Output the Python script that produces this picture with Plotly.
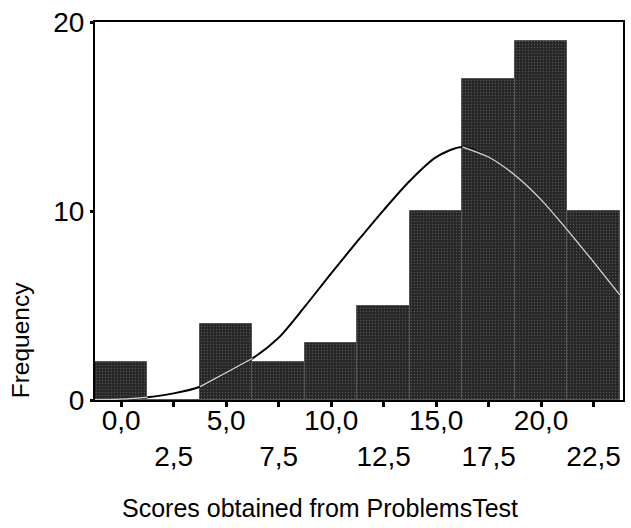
import plotly.graph_objects as go

# Histogram bins (centres) and frequencies
bin_centers = [0.0, 2.5, 5.0, 7.5, 10.0, 12.5, 15.0, 17.5, 20.0, 22.5]
frequencies = [2, 0, 4, 2, 3, 5, 10, 17, 19, 10]
tick_labels = ["0,0", "2,5", "5,0", "7,5", "10,0", "12,5",
               "15,0", "17,5", "20,0", "22,5"]

# Normal curve
curve_x = [-1.25, 0.0, 1.25, 2.5, 3.75, 5.0, 6.25, 7.5, 8.75, 10.0, 11.25,
           12.5, 13.75, 15.0, 16.25, 17.5, 18.75, 20.0, 21.25, 22.5, 23.75]
curve_y = [0.02, 0.05, 0.15, 0.35, 0.7, 1.45, 2.2, 3.3, 4.95, 6.7, 8.4,
           10.05, 11.6, 12.85, 13.39, 12.85, 11.9, 10.6, 9.0, 7.3, 5.56]

bin_width = 2.5

# Labels alternate between an upper and a lower row
lower_vals = bin_centers[1::2]
lower_text = tick_labels[1::2]

# Part of the curve that lies inside a bar (drawn light, as in the scan)
def bar_height_at(x, side):
    best = None
    for c, f in zip(bin_centers, frequencies):
        lo, hi = c - bin_width / 2, c + bin_width / 2
        if lo - 1e-9 <= x <= hi + 1e-9:
            if side > 0 and x < hi - 1e-9:
                best = f
            if side < 0 and x > lo + 1e-9:
                best = f
    return best

inside_y = []
for x, y in zip(curve_x, curve_y):
    left = bar_height_at(x, -1)
    right = bar_height_at(x, +1)
    ok = (left is not None and y < left) or (right is not None and y < right)
    inside_y.append(y if ok else None)

fig = go.Figure()

fig.add_trace(go.Scatter(
    x=curve_x, y=curve_y, mode="lines",
    line=dict(color="black", width=2, shape="spline", smoothing=0.8),
    hoverinfo="skip", showlegend=False,
))

fig.add_trace(go.Bar(
    x=bin_centers, y=frequencies, width=bin_width,
    marker=dict(
        color="#2a2a2a",
        line=dict(color="#555555", width=1),
        pattern=dict(shape=".", size=3, solidity=0.2,
                     fgcolor="#808080", bgcolor="#262626"),
    ),
    showlegend=False,
))

fig.add_trace(go.Scatter(
    x=curve_x, y=inside_y, mode="lines",
    line=dict(color="#c9c9c9", width=1.5, shape="spline", smoothing=0.8),
    connectgaps=False, hoverinfo="skip", showlegend=False,
))

# invisible trace to activate the second (label-only) x axis
fig.add_trace(go.Scatter(
    x=[bin_centers[0]], y=[0], xaxis="x2", mode="markers",
    marker=dict(opacity=0), hoverinfo="skip", showlegend=False,
))

font_family = "Liberation Sans, Arial, sans-serif"
xr = [-1.25, 23.9]

fig.update_layout(
    width=631, height=528,
    margin=dict(l=95, r=6, t=22, b=128),
    paper_bgcolor="white", plot_bgcolor="white",
    bargap=0,
    font=dict(family=font_family, color="black", size=28),
    xaxis=dict(
        range=xr,
        tickmode="array", tickvals=bin_centers,
        ticktext=[t if i % 2 == 0 else "" for i, t in enumerate(tick_labels)],
        tickangle=0,
        ticks="outside", ticklen=5, tickwidth=3, tickcolor="black",
        showline=True, linecolor="black", linewidth=2, mirror=True,
        showgrid=False, zeroline=False,
        tickfont=dict(size=28, family=font_family),
        ticklabelstandoff=-11,
    ),
    xaxis2=dict(
        range=xr, overlaying="x", side="bottom", anchor="y",
        tickmode="array", tickvals=lower_vals, ticktext=lower_text,
        tickangle=0, ticks="", showline=False, showgrid=False, zeroline=False,
        tickfont=dict(size=28, family=font_family),
        ticklabelstandoff=37,
    ),
    yaxis=dict(
        range=[0, 20],
        tickvals=[0, 10, 20],
        ticks="outside", ticklen=3, tickwidth=3, tickcolor="black",
        showline=True, linecolor="black", linewidth=2, mirror=True,
        showgrid=False, zeroline=False,
        tickfont=dict(size=28, family=font_family),
    ),
    annotations=[
        dict(text="Scores obtained from ProblemsTest", xref="paper", yref="paper",
             x=(321 - 95) / 530, y=-(508 - 400) / 378, showarrow=False,
             font=dict(size=25, family=font_family), xanchor="center", yanchor="middle"),
        dict(text="Frequency", xref="paper", yref="paper",
             x=-(95 - 20) / 530, y=(400 - 340) / 378, showarrow=False, textangle=-90,
             font=dict(size=24.5, family=font_family), xanchor="center", yanchor="middle"),
    ],
)

fig.write_html("out.html")
